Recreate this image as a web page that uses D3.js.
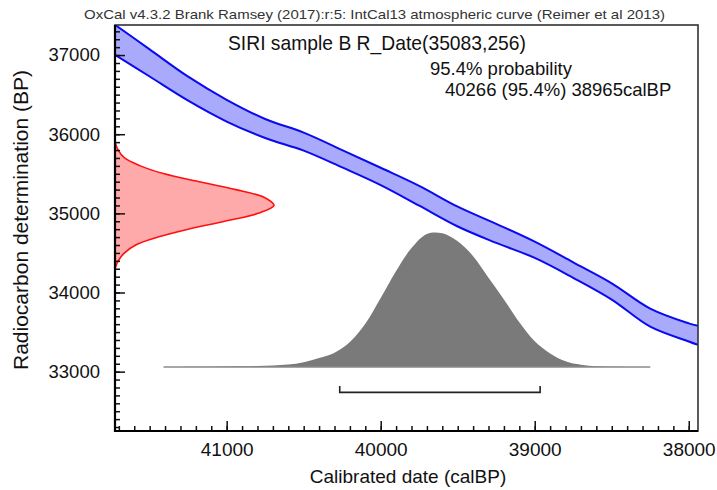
<!DOCTYPE html>
<html>
<head>
	<meta charset="utf-8">
	<title>OxCal R_Date</title>
	<script src="https://d3js.org/d3.v7.min.js"></script>
	<style>
		body { margin: 0; background: #fff; }
		text { font-family: "Liberation Sans", Arial, sans-serif; fill: #111; }
	</style>
</head>
<body>
	<div class="chart"></div>

	<script type="text/javascript">

		// calibration curve (IntCal13), band edges read at these calBP dates
		var calGrid = [41725, 41500, 41250, 41000, 40750, 40500, 40250, 40000, 39750, 39500, 39250, 39000, 38750, 38500, 38250, 38000, 37940]
		var curveUpper = [37383, 37072, 36727, 36435, 36192, 36020, 35800, 35576, 35347, 35084, 34867, 34642, 34381, 34116, 33796, 33610, 33578]
		var curveLower = [37004, 36729, 36424, 36160, 35952, 35792, 35580, 35357, 35097, 34834, 34627, 34437, 34186, 33911, 33568, 33381, 33338]

		// radiocarbon measurement (red, on the y axis)
		var rDateBP = [34300, 34400, 34500, 34600, 34700, 34800, 34900, 35000, 35100, 35200, 35300, 35400, 35500, 35600, 35700, 35800, 35900]
		var rDateProb = [0, 0.02, 0.06, 0.13, 0.27, 0.46, 0.69, 0.90, 1.00, 0.94, 0.76, 0.53, 0.31, 0.16, 0.06, 0.02, 0]

		// calibrated distribution (grey, on the x axis)
		var calDates = [41410, 41300, 41200, 41100, 41000, 40900, 40800, 40700, 40600, 40500, 40400, 40300, 40200, 40100, 40000, 39900, 39800, 39700, 39600, 39500, 39400, 39300, 39200, 39100, 39000, 38900, 38800, 38700, 38600, 38500, 38400, 38250]
		var calProb = [0, 0, 0.001, 0.002, 0.003, 0.004, 0.006, 0.01, 0.017, 0.035, 0.065, 0.105, 0.185, 0.32, 0.51, 0.71, 0.88, 0.985, 0.99, 0.93, 0.82, 0.66, 0.5, 0.33, 0.19, 0.1, 0.042, 0.016, 0.005, 0.001, 0, 0]

		var range95 = [40266, 38965]
		var xTicks = [41000, 40000, 39000, 38000]
		var yTicks = [33000, 34000, 35000, 36000, 37000]

		var header = 'OxCal v4.3.2 Brank Ramsey (2017):r:5: IntCal13 atmospheric curve (Reimer et al 2013)'
		var title = 'SIRI sample B R_Date(35083,256)'
		var probLabel = '95.4% probability'
		var rangeLabel = '40266 (95.4%) 38965calBP'

		var width = 717
		var height = 490
		// plot box (window.top is reserved, so prefixed names)
		var pLeft = 115, pRight = 698, pTop = 25, pBottom = 431

		var svg = d3
			.select('.chart')
			.append('svg')
			.attr('width', width)
			.attr('height', height)

		// scales
		var x = d3.scaleLinear().domain([41725, 37940]).range([pLeft, pRight])
		var y = d3.scaleLinear().domain([32250, 37380]).range([pBottom, pTop])
		var smooth = d3.curveCatmullRom.alpha(0.5)

		svg.append('clipPath')
			.attr('id', 'plotClip')
			.append('rect')
			.attr('x', pLeft)
			.attr('y', pTop)
			.attr('width', pRight - pLeft)
			.attr('height', pBottom - pTop)

		var plot = svg.append('g').attr('clip-path', 'url(#plotClip)')

		// calibration band
		var band = calGrid.map((c, i) => ({ cal: c, hi: curveUpper[i], lo: curveLower[i] }))
		plot.append('path')
			.datum(band)
			.attr('d', d3.area().curve(smooth).x(d => x(d.cal)).y0(d => y(d.lo)).y1(d => y(d.hi)))
			.attr('fill', '#aaaafc')
		;['hi', 'lo'].forEach(k => {
			plot.append('path')
				.datum(band)
				.attr('d', d3.line().curve(smooth).x(d => x(d.cal)).y(d => y(d[k])))
				.attr('fill', 'none')
				.attr('stroke', '#0a0af0')
				.attr('stroke-width', 2)
		})

		// measurement on y axis
		var rScale = d3.scaleLinear().domain([0, 1]).range([pLeft, pLeft + 159])
		var rData = rDateBP.map((b, i) => [b, rDateProb[i]])
		plot.append('path')
			.datum(rData)
			.attr('d', d3.area().curve(smooth).y(d => y(d[0])).x0(pLeft).x1(d => rScale(d[1])))
			.attr('fill', '#ffaaaa')
		plot.append('path')
			.datum(rData)
			.attr('d', d3.line().curve(smooth).y(d => y(d[0])).x(d => rScale(d[1])))
			.attr('fill', 'none')
			.attr('stroke', '#ff1010')
			.attr('stroke-width', 1.6)

		// calibrated distribution
		var base = y(33060)
		var pScale = d3.scaleLinear().domain([0, 1]).range([base, base - 135])
		var cData = calDates.map((c, i) => [c, calProb[i]])
		plot.append('path')
			.datum(cData)
			.attr('d', d3.area().curve(smooth).x(d => x(d[0])).y0(base).y1(d => Math.min(base, pScale(d[1]))))
			.attr('fill', '#7a7a7a')
		plot.append('line')
			.attr('x1', x(calDates[0]))
			.attr('x2', x(calDates[calDates.length - 1]))
			.attr('y1', base)
			.attr('y2', base)
			.attr('stroke', '#8a8a8a')
			.attr('stroke-width', 1.5)

		// 95.4% range bracket
		var by = base + 25.5
		svg.append('path')
			.attr('d', `M${x(range95[0])},${by - 6.5}V${by}H${x(range95[1])}V${by - 6.5}`)
			.attr('fill', 'none')
			.attr('stroke', '#222')
			.attr('stroke-width', 1.6)

		// axes (ticks point inward)
		var xMinor = d3.range(37900, 41800, 100).filter(v => v <= 41725 && v >= 37940)
		var yMinor = d3.range(32300, 37400, 100)

		svg.append('g')
			.attr('transform', `translate(0, ${pBottom})`)
			.call(d3.axisBottom(x).tickValues(xMinor).tickSize(-5).tickSizeOuter(0).tickFormat(''))
		svg.append('g')
			.attr('class', 'xAxis')
			.attr('transform', `translate(0, ${pBottom})`)
			.call(d3.axisBottom(x).tickValues(xTicks).tickSize(-10).tickSizeOuter(0).tickPadding(11.5).tickFormat(d3.format('d')))

		svg.append('g')
			.attr('transform', `translate(${pLeft}, 0)`)
			.call(d3.axisLeft(y).tickValues(yMinor).tickSize(-5).tickSizeOuter(0).tickFormat(''))
		svg.append('g')
			.attr('class', 'yAxis')
			.attr('transform', `translate(${pLeft}, 0)`)
			.call(d3.axisLeft(y).tickValues(yTicks).tickSize(-10).tickSizeOuter(0).tickPadding(15).tickFormat(d3.format('d')))

		svg.selectAll('.domain').remove()
		svg.selectAll('.tick line').attr('stroke', '#111').attr('stroke-width', 1.5)
		svg.selectAll('.xAxis text').style('font-size', '19px').attr('fill', '#111')
		svg.selectAll('.yAxis text').style('font-size', '18.5px').attr('fill', '#111')

		// frame
		svg.append('rect')
			.attr('x', pLeft)
			.attr('y', pTop)
			.attr('width', pRight - pLeft)
			.attr('height', pBottom - pTop)
			.attr('fill', 'none')
			.attr('stroke', '#333')
			.attr('stroke-width', 1.6)
		svg.append('path')
			.attr('d', `M${pLeft},${pTop}V${pBottom}H${pRight}`)
			.attr('fill', 'none')
			.attr('stroke', '#000')
			.attr('stroke-width', 2.2)

		// texts
		svg.append('text')
			.attr('x', 84)
			.attr('y', 19)
			.attr('textLength', 581)
			.attr('lengthAdjust', 'spacingAndGlyphs')
			.style('font-size', '13px')
			.style('fill', '#333')
			.text(header)

		svg.append('text')
			.attr('x', 228)
			.attr('y', 50)
			.attr('textLength', 298)
			.attr('lengthAdjust', 'spacingAndGlyphs')
			.style('font-size', '21px')
			.text(title)

		svg.append('text')
			.attr('x', 430)
			.attr('y', 75)
			.style('font-size', '18.5px')
			.text(probLabel)

		svg.append('text')
			.attr('x', 445)
			.attr('y', 96)
			.style('font-size', '18.5px')
			.text(rangeLabel)

		svg.append('text')
			.attr('x', 408)
			.attr('y', 483)
			.attr('text-anchor', 'middle')
			.style('font-size', '19px')
			.text('Calibrated date (calBP)')

		svg.append('text')
			.attr('transform', 'translate(28, 220) rotate(-90)')
			.attr('text-anchor', 'middle')
			.style('font-size', '21px')
			.text('Radiocarbon determination (BP)')

	</script>
</body>
</html>
